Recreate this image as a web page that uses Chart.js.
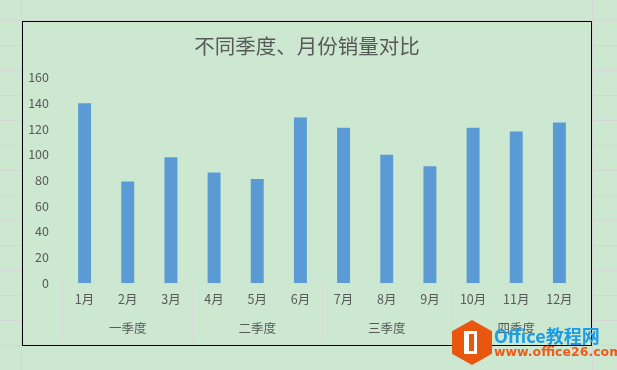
<!DOCTYPE html>
<html>
<head>
<meta charset="utf-8">
<script src="https://cdn.jsdelivr.net/npm/chart.js@4.4.1/dist/chart.umd.min.js"></script>
<style>
	html, body{ margin:0; padding:0; }
	body{
		width:617px; height:370px; overflow:hidden; position:relative;
		background-color:#cde8d0;
		/* sheet rows behind the chart */
		background-image:linear-gradient(to bottom, #d6d6d6 0, #d6d6d6 1px, transparent 1px);
		background-size:100% 25px;
		background-position:0 20px;
	}
	.col{ position:absolute; top:0; width:1px; height:370px; background:#d6d6d6; }
	#box{
		position:absolute; left:22px; top:21px; width:570px; height:325px;
		box-sizing:border-box; border:1px solid #000; background:#cde8d0;
	}
	#box canvas{ display:block; }
	.wm{ position:absolute; left:0; top:0; pointer-events:none; }
	.hex{
		position:absolute; left:452px; top:320px; width:40px; height:45px; background:#e8560f;
		clip-path:polygon(50% 0, 100% 25%, 100% 75%, 50% 100%, 0 75%, 0 25%);
	}
	.door{
		position:absolute; left:12px; top:11px; width:13px; height:23px;
		border:3px solid #fff; border-left-width:5px; box-sizing:border-box;
	}
	.t1{ position:absolute; left:494px; top:322px; font:bold 18px "Noto Sans CJK SC", sans-serif; color:#1c9de6; white-space:nowrap; }
	.t2{ position:absolute; left:494px; top:344px; font:bold 12.5px "DejaVu Sans", sans-serif; color:#f05a19; white-space:nowrap; }
</style>
</head>
<body>
<div class="col" style="left:21px"></div>
<div class="col" style="left:592px"></div>

<div id="box"><canvas id="chart" width="568" height="323"></canvas></div>

<div class="wm">
	<div class="hex"><div class="door"></div></div>
	<div class="t1">Office教程网</div>
	<div class="t2">www.office26.com</div>
</div>

<script>
// values
var months = ['1月', '2月', '3月', '4月', '5月', '6月', '7月', '8月', '9月', '10月', '11月', '12月'];
var quarters = ['一季度', '二季度', '三季度', '四季度'];
var sales = [140, 79, 98, 86, 81, 129, 121, 100, 91, 121, 118, 125];
var yTicks = [0, 20, 40, 60, 80, 100, 120, 140, 160];

var FONT = '"Noto Sans CJK SC", "Microsoft YaHei", sans-serif';
var TEXT = '#595959';
var LINE = '#d9d9d9';

new Chart(document.getElementById('chart'), {
	type: 'bar',
	data: {
		labels: months,
		datasets: [{
			label: '销量',
			data: sales,
			backgroundColor: '#5b9bd5',
			categoryPercentage: 1,
			barPercentage: 0.3,
			xAxisID: 'x'
		}]
	},
	options: {
		responsive: false,
		animation: false,
		layout: { padding: 0 },
		plugins: {
			legend: { display: false },
			tooltip: { enabled: false },
			title: {
				display: true,
				text: '不同季度、月份销量对比',
				color: TEXT,
				font: { family: FONT, size: 20.5, weight: 'normal' },
				padding: { top: 12, bottom: 19 }
			}
		},
		scales: {
			y: {
				min: yTicks[0],
				max: yTicks[yTicks.length - 1],
				grid: { display: false },
				border: { display: false },
				afterBuildTicks: function(scale){
					scale.ticks = yTicks.map(function(v){ return { value: v }; });
				},
				afterFit: function(scale){ scale.width = 40; },
				ticks: { color: TEXT, padding: 6, font: { family: FONT, size: 12.5 } }
			},
			// empty strip on the right, keeps the title centred on the whole box
			yR: {
				position: 'right',
				grid: { display: false },
				border: { display: false },
				ticks: { display: false },
				afterFit: function(scale){ scale.width = 10; }
			},
			x: {
				offset: true,
				border: { display: true, color: LINE },
				grid: {
					offset: true,
					drawOnChartArea: false,
					tickLength: 56,
					// only the quarter boundaries get a line
					color: function(ctx){ return ctx.index % 3 === 0 ? LINE : 'rgba(0,0,0,0)'; }
				},
				afterFit: function(scale){ scale.height = 24; },
				ticks: { color: TEXT, padding: -47.5, maxRotation: 0, autoSkip: false, font: { family: FONT, size: 12.5 } }
			},
			x2: {
				type: 'category',
				position: 'bottom',
				labels: quarters,
				offset: true,
				grid: { display: false },
				border: { display: false },
				afterFit: function(scale){ scale.height = 38; },
				ticks: { color: TEXT, padding: 6, maxRotation: 0, font: { family: FONT, size: 12.5 } }
			}
		}
	}
});
</script>
</body>
</html>
